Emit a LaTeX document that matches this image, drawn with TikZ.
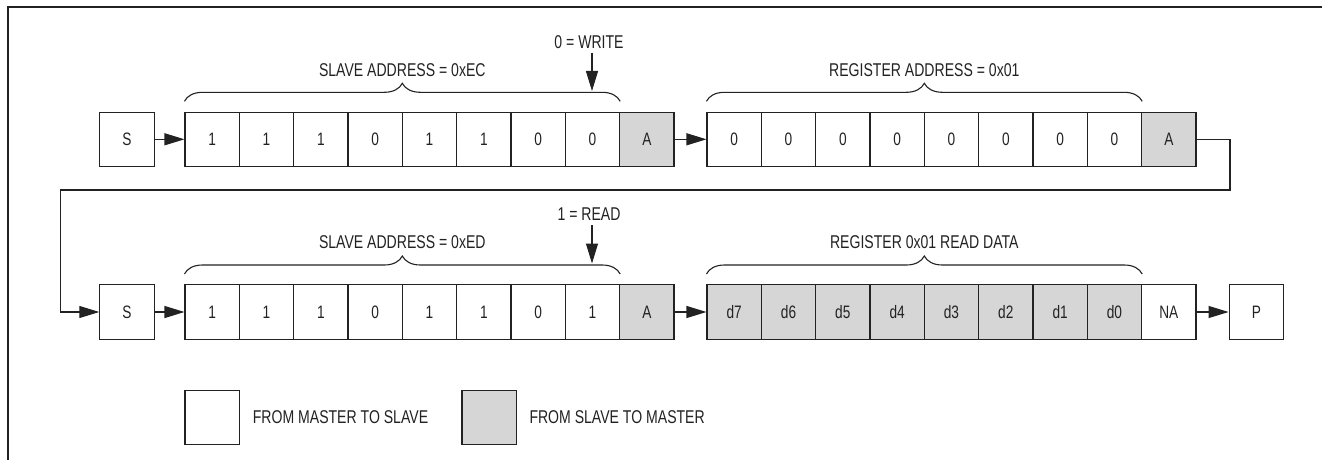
\documentclass[tikz,border=0pt]{standalone}
\usepackage{fontspec}
\setmainfont{Liberation Sans}[FakeStretch=0.76]
\usetikzlibrary{arrows.meta,decorations.pathreplacing,calc}
\definecolor{slavegray}{HTML}{D6D6D6}
\definecolor{ink}{HTML}{222222}
\begin{document}
\begin{tikzpicture}[x=1pt,y=-1pt,
  every node/.style={font=\fontsize{18}{20}\selectfont, inner sep=0pt, text=ink},
  cell/.style={draw=ink, line width=1.1pt, minimum width=54.33pt, minimum height=54.3pt},
  sgray/.style={cell, fill=slavegray},
  legbox/.style={draw=ink, line width=1.1pt, minimum width=54.5pt, minimum height=53.6pt},
  conn/.style={draw=ink, line width=1.1pt, -{Triangle[length=20pt,width=12pt]}},
  bracestyle/.style={draw=ink, line width=1.1pt, decorate, decoration={brace, amplitude=18pt}},
  lbl/.style={font=\fontsize{18.5}{20}\selectfont}]
\useasboundingbox (0,0) rectangle (1322,460);
\begin{scope}
  \clip (0,0) rectangle (1322,460);
  \draw[ink, line width=2pt] (8,7.3) rectangle (1400,520);
\end{scope}

% Row 1
\node[cell] (s1) at (127,139.3) {S};
\foreach \v [count=\i from 0] in {1,1,1,0,1,1,0,0}
  \node[cell] (a\i) at ({185+54.33*(\i+0.5)},139.3) {\v};
\node[sgray] (ack1) at ({185+54.33*8.5},139.3) {A};
\foreach \v [count=\i from 0] in {0,0,0,0,0,0,0,0}
  \node[cell] (r\i) at ({707+54.33*(\i+0.5)},139.3) {\v};
\node[sgray] (ack2) at ({707+54.33*8.5},139.3) {A};

\draw[conn] (s1.east) -- (a0.west);
\draw[conn] (ack1.east) -- (r0.west);

% Row 2
\node[cell] (s2) at (127,312) {S};
\foreach \v [count=\i from 0] in {1,1,1,0,1,1,0,1}
  \node[cell] (b\i) at ({185+54.33*(\i+0.5)},312) {\v};
\node[sgray] (ack3) at ({185+54.33*8.5},312) {A};
\foreach \v [count=\i from 0] in {d7,d6,d5,d4,d3,d2,d1,d0}
  \node[sgray] (d\i) at ({707+54.33*(\i+0.5)},312) {\v};
\node[cell] (na) at ({707+54.33*8.5},312) {NA};
\node[cell] (p) at (1256.3,312) {P};

\draw[conn] (s2.east) -- (b0.west);
\draw[conn] (ack3.east) -- (d0.west);
\draw[conn] (na.east) -- (p.west);

% wrap-around connector
\coordinate (w1) at (1230,139.3);
\coordinate (w2) at (1230,190);
\coordinate (w3) at (60.7,190);
\coordinate (w4) at (60.7,312);
\draw[conn] (ack2.east) -- (w1) -- (w2) -- (w3) -- (w4) -- (s2.west);

% braces
\draw[bracestyle] ($(a0.north west)+(0,-10.3)$) -- ($(a7.north east)+(0,-10.3)$);
\draw[bracestyle] ($(r0.north west)+(0,-10.3)$) -- ($(r7.north east)+(0,-10.3)$);
\draw[bracestyle] ($(b0.north west)+(0,-10.3)$) -- ($(b7.north east)+(0,-10.3)$);
\draw[bracestyle] ($(d0.north west)+(0,-10.3)$) -- ($(d7.north east)+(0,-10.3)$);

% brace labels
\node[lbl] (t1) at (402.3,70) {SLAVE ADDRESS = 0xEC};
\node[lbl] (t2) at (924.3,70) {REGISTER ADDRESS = 0x01};
\node[lbl] (t3) at (402.3,242.5) {SLAVE ADDRESS = 0xED};
\node[lbl] (t4) at (924.3,242.5) {REGISTER 0x01 READ DATA};

% read/write markers
\node[lbl] (wr) at (589,42) {0 = WRITE};
\coordinate (wrt) at (592,91);
\draw[conn] (wr.south -| wrt) ++(0,4) -- (wrt);
\node[lbl] (rd) at (589,214.5) {1 = READ};
\coordinate (rdt) at (592,263.5);
\draw[conn] (rd.south -| rdt) ++(0,4) -- (rdt);

% legend
\node[legbox] (lw) at (212.2,417.5) {};
\node[lbl, anchor=west] (lwt) at (252.7,417.5) {FROM MASTER TO SLAVE};
\node[legbox, fill=slavegray] (lg) at (489.2,417.5) {};
\node[lbl, anchor=west] (lgt) at (529.3,417.5) {FROM SLAVE TO MASTER};
\end{tikzpicture}
\end{document}
